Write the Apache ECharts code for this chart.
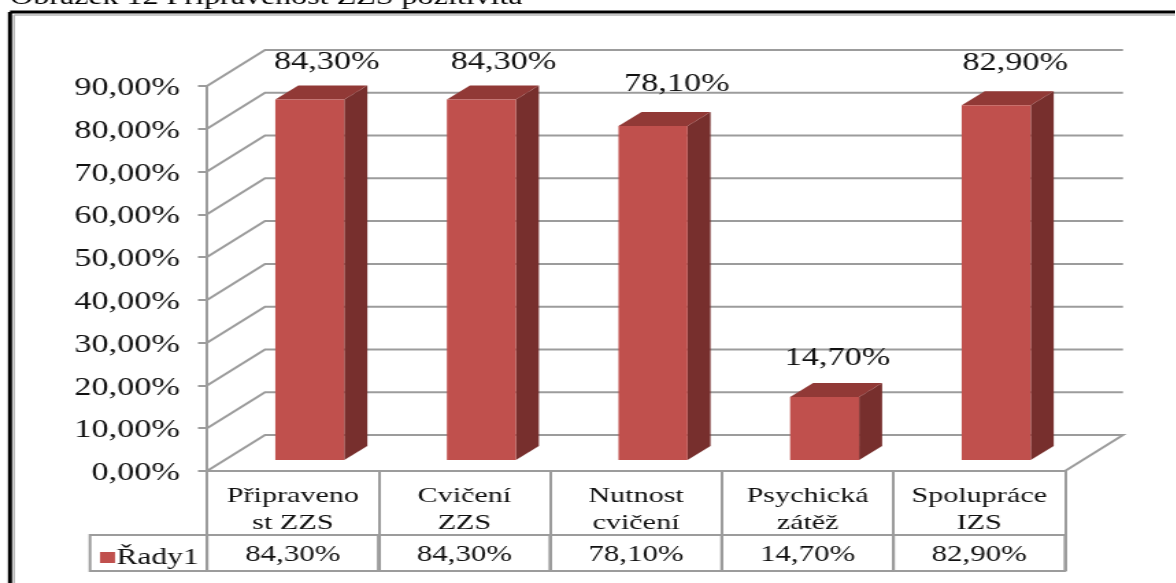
<!DOCTYPE html>
<html><head><meta charset="utf-8">
<style>
html,body{margin:0;padding:0;background:#fff;overflow:hidden;width:1176px;height:583px}
#c{position:absolute;left:0;top:0;height:583px;transform-origin:0 0;filter:blur(0.45px)}
</style>
<script src="https://cdn.jsdelivr.net/npm/echarts@6/dist/echarts.min.js"></script>
</head><body><div id="c"></div>
<script>
const titleText = 'Obrázek 12 Připravenost ZZS pozitivita';
const seriesName = 'Řady1';
const categories = ['Připraveno\nst ZZS', 'Cvičení\nZZS', 'Nutnost\ncvičení', 'Psychická\nzátěž', 'Spolupráce\nIZS'];
const values = [84.3, 84.3, 78.1, 14.7, 82.9];
const gridValues = [0, 10, 20, 30, 40, 50, 60, 70, 80, 90];

// The reference is horizontally stretched; the whole chart is stretched the same way.
const K = 1.37;
const W = 1176 / K;
const sx = v => v / K;
const el = document.getElementById('c');
el.style.width = W + 'px';
el.style.transform = 'scaleX(' + K + ')';

const FONT = '"Liberation Serif","Times New Roman",serif';
const INK = '#111111', GRIDC = '#9c9c9c';
const FRONT = '#c0504d', SIDE = '#772f2d', TOP = '#913936';
const labelDx = [17, 22, 24, 13, 19], labelDy = [-37, -37, -41, -39, -42];
const fmt = v => v.toFixed(2).replace('.', ',') + '%';

const chart = echarts.init(el, null, {renderer: 'canvas', width: W, height: 583});
const line = (x1, y1, x2, y2, stroke, lineWidth) => ({type: 'line', silent: true,
  shape: {x1: sx(x1), y1, x2: sx(x2), y2}, style: {stroke, lineWidth}});

chart.setOption({
  animation: false,
  backgroundColor: '#fff',
  title: {text: titleText, left: sx(10), top: -14, padding: 0,
    textStyle: {fontFamily: FONT, fontSize: 23.4, fontWeight: 'normal', color: '#000'}},
  legend: {left: sx(100), top: 546, padding: 0, selectedMode: false,
    itemWidth: sx(15), itemHeight: 11, icon: 'rect',
    data: [seriesName],
    textStyle: {fontFamily: FONT, fontSize: 23, color: INK, padding: [0, 0, 0, -4]}},
  grid: {left: sx(207), width: sx(858), top: 86, height: 385},
  xAxis: {type: 'category', data: categories, boundaryGap: true,
    axisLine: {lineStyle: {color: GRIDC, width: 2}},
    axisTick: {show: true, alignWithLabel: false, length: 100, lineStyle: {color: GRIDC, width: 2}},
    axisLabel: {interval: 0, margin: 12, fontFamily: FONT, fontSize: 22, lineHeight: 27, color: INK}},
  yAxis: {type: 'value', min: 0, max: 90, interval: 10,
    axisLine: {show: true, lineStyle: {color: GRIDC, width: 2}},
    axisTick: {show: true, length: sx(9), lineStyle: {color: GRIDC, width: 2}},
    splitLine: {show: false},
    axisLabel: {margin: sx(27), fontFamily: FONT, fontSize: 25, color: INK, verticalAlign: 'top', lineHeight: 5, formatter: fmt}},
  graphic: [
    line(10, 12, 1176, 12, '#000', 3),
    line(10, 12, 10, 583, '#000', 3),
    line(14, 15, 1176, 15, '#b5b5b5', 1.5),
    line(14, 15, 14, 583, '#b5b5b5', 1.5)
  ],
  series: [
    { // 3D walls and floor, one polyline per axis value
      type: 'custom', z: 1, silent: true, name: 'walls',
      data: gridValues.map(v => [0, v]),
      renderItem(params, api) {
        const c = params.coordSys, y = api.coord([0, api.value(1)])[1];
        const bx = c.x + sx(58), by = y - 36, r = c.x + c.width;
        const pts = [[c.x, y], [bx, by], [r + sx(58), by]];
        if (api.value(1) === 0) pts.push([r, y]);
        return {type: 'polyline', shape: {points: pts}, style: {fill: null, stroke: GRIDC, lineWidth: 2}};
      }
    },
    { // value row of the data table
      type: 'custom', z: 2, silent: true, name: 'table',
      data: values.map((v, i) => [i, v]),
      renderItem(params, api) {
        const i = api.value(0), w = api.size([1, 0])[0], cx = api.coord([i, 0])[0];
        const ch = [
          {type: 'rect', shape: {x: cx - w / 2, y: 535, width: w, height: 36},
            style: {fill: null, stroke: GRIDC, lineWidth: 2}},
          {type: 'text', x: cx, y: 555, style: {text: fmt(api.value(1)), align: 'center', verticalAlign: 'middle',
            font: '22.5px ' + FONT, fill: INK}}
        ];
        if (i === 0) ch.unshift({type: 'rect', shape: {x: sx(90), y: 535, width: cx - w / 2 - sx(90), height: 36},
          style: {fill: null, stroke: GRIDC, lineWidth: 2}});
        return {type: 'group', children: ch};
      }
    },
    { // 3D bars
      type: 'custom', z: 3, silent: true, name: seriesName,
      itemStyle: {color: FRONT},
      data: values.map((v, i) => [i, v]),
      renderItem(params, api) {
        const i = api.value(0), v = api.value(1);
        const p = api.coord([i, v]), z = api.coord([i, 0]);
        const bw = sx(69), dx = sx(23), dy = 14;
        const l = p[0] + sx(17) - bw / 2, r = l + bw, t = p[1] - 11, b = z[1] - 11;
        return {type: 'group', children: [
          {type: 'polygon', shape: {points: [[r, t], [r + dx, t - dy], [r + dx, b - dy], [r, b]]}, style: {fill: SIDE}},
          {type: 'polygon', shape: {points: [[l, t], [l + dx, t - dy], [r + dx, t - dy], [r, t]]}, style: {fill: TOP}},
          {type: 'rect', shape: {x: l, y: t, width: bw, height: b - t}, style: {fill: FRONT}},
          {type: 'text', x: l + bw / 2 + sx(labelDx[i]), y: t + labelDy[i],
            style: {text: fmt(v), align: 'center', verticalAlign: 'middle', font: '25px ' + FONT, fill: INK}}
        ]};
      }
    }
  ]
});
</script></body></html>
